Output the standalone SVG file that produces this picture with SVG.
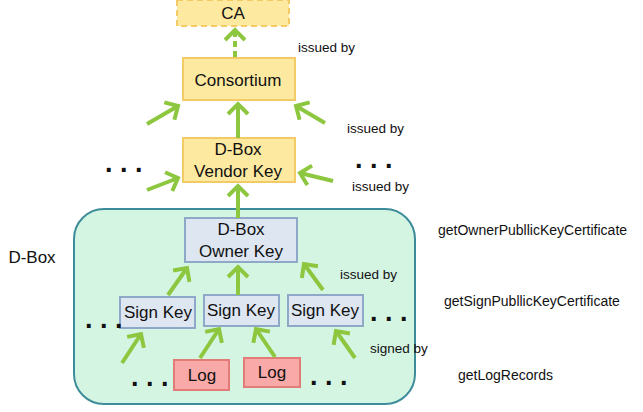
<svg xmlns="http://www.w3.org/2000/svg" width="643" height="412" viewBox="0 0 643 412">
<defs>
<marker id="ah" markerUnits="userSpaceOnUse" viewBox="-14 -13 18 26" markerWidth="18" markerHeight="26" refX="0" refY="0" orient="auto">
<path d="M-10,-10 L0,0 L-10,10" fill="none" stroke="#8dc63f" stroke-width="4"/>
</marker>
<style>
.yb{fill:#fde9a0;stroke:#f3cb66;stroke-width:2}
.bb{fill:#dde6f1;stroke:#8ea9c8;stroke-width:2}
.pb{fill:#f9a9a7;stroke:#e27c78;stroke-width:2}
.t{font-family:"Liberation Sans",Arial,sans-serif;font-size:17px;fill:#111;text-anchor:middle}
.s{font-family:"Liberation Sans",Arial,sans-serif;font-size:13.5px;fill:#111}
.g{font-family:"Liberation Sans",Arial,sans-serif;font-size:14px;fill:#111}
.d{font-family:"Liberation Sans",Arial,sans-serif;font-size:27px;font-weight:bold;fill:#111}
.c{stroke:#8dc63f;stroke-width:4;fill:none;marker-end:url(#ah)}
</style>
</defs>
<g id="dbox">
<rect x="74" y="209" width="341" height="195" rx="30" fill="#d5f5e3" stroke="#3d8c99" stroke-width="2"/>
<text class="t" x="32" y="263">D-Box</text>
</g>

<g id="ca"><rect x="177" y="0" width="112" height="26" class="yb" stroke-dasharray="6,4"/><text class="t" x="233" y="19">CA</text></g>
<g id="consortium"><rect x="183" y="58" width="112" height="42" class="yb"/><text class="t" x="238" y="86">Consortium</text></g>
<g id="vendor"><rect x="183" y="138" width="112" height="44" class="yb"/><text class="t" x="238" y="155">D-Box</text><text class="t" x="238" y="177">Vendor Key</text></g>
<g id="owner"><rect x="185" y="218" width="112" height="44" class="bb"/><text class="t" x="241" y="235">D-Box</text><text class="t" x="241" y="257">Owner Key</text></g>
<g id="sign1"><rect x="120" y="297" width="75" height="31" class="bb"/><text class="t" x="158" y="318">Sign Key</text></g>
<g id="sign2"><rect x="204" y="295" width="75" height="31" class="bb"/><text class="t" x="241" y="316">Sign Key</text></g>
<g id="sign3"><rect x="288" y="295" width="75" height="31" class="bb"/><text class="t" x="325" y="316">Sign Key</text></g>
<g id="log1"><rect x="174" y="360" width="55" height="30" class="pb"/><text class="t" x="202" y="381">Log</text></g>
<g id="log2"><rect x="244" y="358" width="56" height="29" class="pb"/><text class="t" x="272" y="378">Log</text></g>

<g id="connectors">
<path class="c" d="M235,57 L235,30" stroke-dasharray="6,4"/>
<path class="c" d="M147,124 L178,106"/>
<path class="c" d="M238,138 L238,104"/>
<path class="c" d="M325,123 L296,106"/>
<path class="c" d="M147,190 L178,178"/>
<path class="c" d="M238,218 L238,186"/>
<path class="c" d="M333,181 L300,173"/>
<path class="c" d="M168,295 L187,268"/>
<path class="c" d="M238,295 L238,267"/>
<path class="c" d="M323,290 L304,264"/>
<path class="c" d="M122,363 L141,334"/>
<path class="c" d="M200,358 L219,329"/>
<path class="c" d="M275,357 L256,329"/>
<path class="c" d="M355,358 L336,331"/>
</g>

<text class="d" x="105" y="172">. . .</text>
<text class="d" x="355" y="168">. . .</text>
<text class="d" x="85" y="328">. . .</text>
<text class="d" x="370" y="321">. . .</text>
<text class="d" x="131" y="386">. . .</text>
<text class="d" x="310" y="385">. . .</text>

<text class="s" x="298" y="52">issued by</text>
<text class="s" x="347" y="133">issued by</text>
<text class="s" x="352" y="191">issued by</text>
<text class="s" x="340" y="279">issued by</text>
<text class="s" x="370" y="353">signed by</text>
<text class="g" x="438" y="235">getOwnerPubllicKeyCertificate</text>
<text class="g" x="444" y="306">getSignPubllicKeyCertificate</text>
<text class="g" x="458" y="380">getLogRecords</text>
</svg>
